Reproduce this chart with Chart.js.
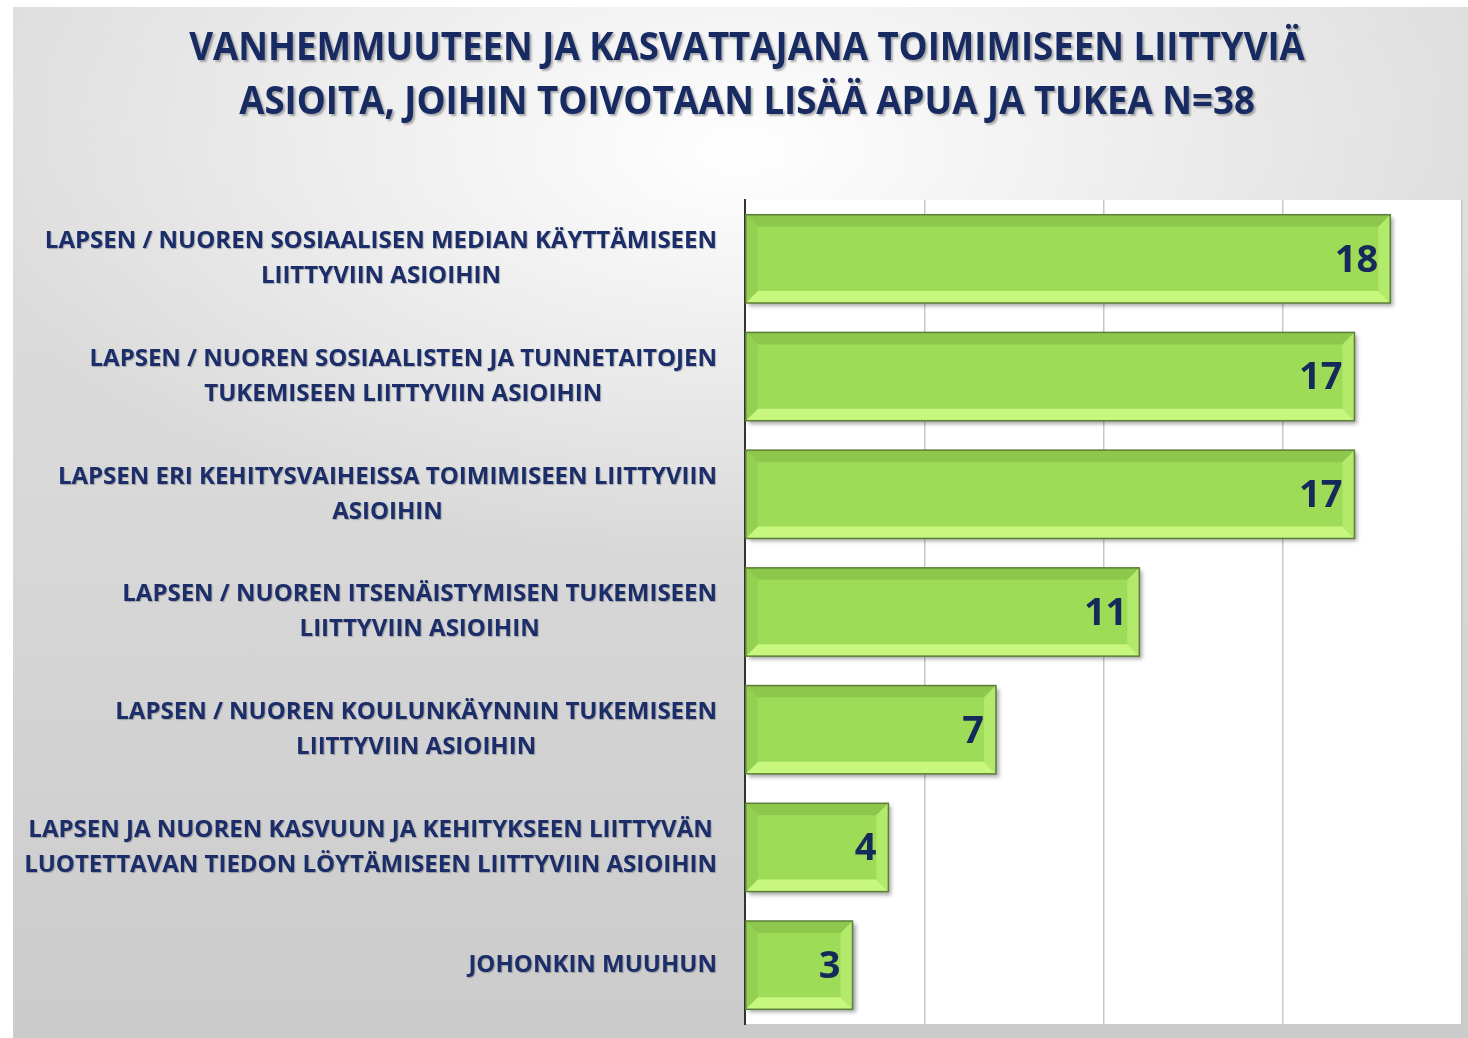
<!DOCTYPE html>
<html>
<head>
<meta charset="utf-8">
<script src="https://cdn.jsdelivr.net/npm/chart.js@4.4.0/dist/chart.umd.min.js"></script>
<style>
  html, body { margin: 0; padding: 0; background: #ffffff; }
  #panel {
    position: absolute; left: 13px; top: 7px; width: 1455px; height: 1031px;
    background:
      radial-gradient(ellipse 55% 40% at 50% 14%, rgba(255,255,255,1) 0%, rgba(255,255,255,0) 100%),
      linear-gradient(to bottom, #dedede 0%, #d8d8d8 50%, #cbcbcb 100%);
  }
</style>
</head>
<body>
<div id="panel"><canvas id="chart"></canvas></div>
<script>
// data
var categories = [
    ['LAPSEN / NUOREN SOSIAALISEN MEDIAN KÄYTTÄMISEEN', 'LIITTYVIIN ASIOIHIN'],
    ['LAPSEN / NUOREN SOSIAALISTEN JA TUNNETAITOJEN', 'TUKEMISEEN LIITTYVIIN ASIOIHIN'],
    ['LAPSEN ERI KEHITYSVAIHEISSA TOIMIMISEEN LIITTYVIIN', 'ASIOIHIN'],
    ['LAPSEN / NUOREN ITSENÄISTYMISEN TUKEMISEEN', 'LIITTYVIIN ASIOIHIN'],
    ['LAPSEN / NUOREN KOULUNKÄYNNIN TUKEMISEEN', 'LIITTYVIIN ASIOIHIN'],
    ['LAPSEN JA NUOREN KASVUUN JA KEHITYKSEEN LIITTYVÄN', 'LUOTETTAVAN TIEDON LÖYTÄMISEEN LIITTYVIIN ASIOIHIN'],
    ['JOHONKIN MUUHUN']
];
var counts = [18, 17, 17, 11, 7, 4, 3];
var titleLines = ['VANHEMMUUTEEN JA KASVATTAJANA TOIMIMISEEN LIITTYVIÄ', 'ASIOITA, JOIHIN TOIVOTAAN LISÄÄ APUA JA TUKEA N=38'];
var axisMin = 0, axisMax = 20, axisStep = 5;

var navy = '#1c2e6a';

// white plot area, bar shadow, bevel, value and category labels, title
var decorPlugin = {
    id: 'decor',
    beforeDraw: function (chart) {
        var a = chart.chartArea, ctx = chart.ctx;
        ctx.save();
        ctx.fillStyle = '#ffffff';
        ctx.fillRect(a.left, a.top, a.right - a.left, a.bottom - a.top);
        ctx.restore();
    },
    beforeDatasetsDraw: function (chart) {
        var ctx = chart.ctx;
        ctx.save();
        ctx.shadowColor = 'rgba(0,0,0,0.35)';
        ctx.shadowOffsetX = 3;
        ctx.shadowOffsetY = 3;
        ctx.shadowBlur = 4;
    },
    afterDatasetsDraw: function (chart) {
        var ctx = chart.ctx;
        ctx.restore();
        var meta = chart.getDatasetMeta(0);
        meta.data.forEach(function (bar, i) {
            var p = bar.getProps(['x', 'y', 'base', 'height'], true);
            var l = Math.min(p.base, p.x), r = Math.max(p.base, p.x);
            var t = p.y - p.height / 2, b = p.y + p.height / 2;
            var bv = 12;
            function poly(pts, col) {
                ctx.beginPath();
                ctx.moveTo(pts[0][0], pts[0][1]);
                for (var k = 1; k < pts.length; k++) ctx.lineTo(pts[k][0], pts[k][1]);
                ctx.closePath();
                ctx.fillStyle = col;
                ctx.fill();
            }
            ctx.save();
            poly([[l, t], [r, t], [r - bv, t + bv], [l + bv, t + bv]], '#8dc84c');
            poly([[l, b], [r, b], [r - bv, b - bv], [l + bv, b - bv]], '#c8f77e');
            poly([[r, t], [r, b], [r - bv, b - bv], [r - bv, t + bv]], '#b3ea6c');
            poly([[l, t], [l, b], [l + bv, b - bv], [l + bv, t + bv]], '#94d152');
            ctx.strokeStyle = '#5d7d3a';
            ctx.lineWidth = 1.5;
            ctx.strokeRect(l, t, r - l, b - t);
            // value label
            ctx.font = 'bold 38px "Open Sans"';
            ctx.fillStyle = '#15295a';
            ctx.textAlign = 'right';
            ctx.textBaseline = 'middle';
            ctx.fillText(String(counts[i]), r - 12, p.y + 2);
            ctx.restore();
        });
    },
    afterDraw: function (chart) {
        var ctx = chart.ctx, ys = chart.scales.y;
        var rightEdge = ys.right - 28;
        var lineH = 35;
        ctx.save();
        ctx.font = 'bold 24px "Open Sans"';
        ctx.fillStyle = navy;
        ctx.textAlign = 'center';
        ctx.textBaseline = 'middle';
        ctx.shadowColor = 'rgba(0,0,0,0.25)';
        ctx.shadowOffsetX = 1;
        ctx.shadowOffsetY = 1;
        ctx.shadowBlur = 1;
        categories.forEach(function (lines, i) {
            var w = 0;
            lines.forEach(function (s) { w = Math.max(w, ctx.measureText(s).width); });
            var cx = rightEdge - w / 2;
            var cy = ys.getPixelForTick(i);
            var y0 = cy - (lines.length - 1) * lineH / 2;
            lines.forEach(function (s, k) { ctx.fillText(s, cx, y0 + k * lineH); });
        });
        ctx.restore();

        // title, slightly condensed
        ctx.save();
        ctx.font = 'bold 40px "Open Sans"';
        ctx.fillStyle = '#172a62';
        ctx.textAlign = 'center';
        ctx.textBaseline = 'middle';
        ctx.shadowColor = 'rgba(0,0,0,0.3)';
        ctx.shadowOffsetX = 2;
        ctx.shadowOffsetY = 2;
        ctx.shadowBlur = 2;
        ctx.translate(734, 0);
        ctx.scale(0.915, 1);
        titleLines.forEach(function (s, k) { ctx.fillText(s, 0, 42 + k * 54); });
        ctx.restore();
    }
};

var ctx = document.getElementById('chart').getContext('2d');
var chart = new Chart(ctx, {
    type: 'bar',
    data: {
        labels: categories,
        datasets: [{
            data: counts,
            backgroundColor: '#9edc58',
            borderWidth: 0,
            categoryPercentage: 1,
            barPercentage: 0.75
        }]
    },
    options: {
        indexAxis: 'y',
        responsive: true,
        maintainAspectRatio: false,
        animation: false,
        layout: { padding: { top: 193, right: 6, bottom: 14, left: 0 } },
        plugins: {
            legend: { display: false },
            tooltip: { enabled: false },
            title: { display: false }
        },
        scales: {
            x: {
                min: axisMin,
                max: axisMax,
                ticks: { display: false, stepSize: axisStep },
                grid: { color: '#c8c8c8', lineWidth: 1.5, drawTicks: false },
                border: { display: false }
            },
            y: {
                ticks: { display: false },
                grid: { display: false, drawTicks: false },
                border: { display: true, color: '#333333', width: 2 },
                afterFit: function (scale) { scale.width = 732; }
            }
        }
    },
    plugins: [decorPlugin]
});
</script>
</body>
</html>
